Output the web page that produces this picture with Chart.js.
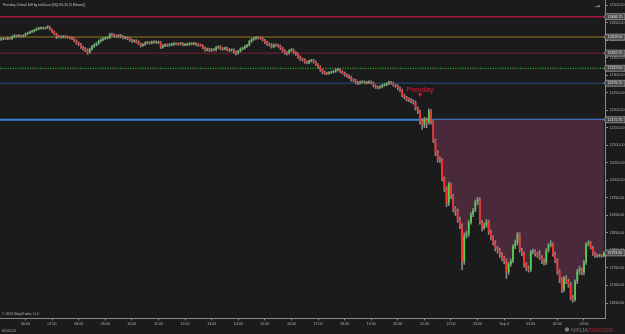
<!DOCTYPE html>
<html>
<head>
<meta charset="utf-8">
<script src="https://cdn.jsdelivr.net/npm/chart.js"></script>
<style>
  html, body { margin: 0; padding: 0; background: #1b1b1b; overflow: hidden; }
  canvas { display: block; }
</style>
</head>
<body>
<canvas id="chart" width="625" height="334"></canvas>
<script>
// NQ 09-20, 5 minute bars, first bar 05:05, last bar 03:45 (Sep 4)
const firstBarMinute = 5 * 60 + 5;

const opens = [
  12402, 12403, 12404, 12403.5, 12405, 12404, 12410, 12413, 12411, 12412.5,
  12411, 12413, 12418, 12420, 12424, 12425, 12429, 12432, 12433, 12434.5,
  12433.5, 12435, 12438, 12430, 12424, 12418, 12412, 12410, 12408, 12410.5,
  12409, 12408, 12406, 12405, 12398, 12392, 12388, 12380, 12376, 12372,
  12366, 12374, 12382, 12386, 12390, 12397, 12401, 12404, 12406, 12407,
  12416, 12414, 12412, 12411, 12413, 12410, 12406, 12407, 12404, 12400,
  12397, 12398, 12395, 12390, 12385, 12388, 12392, 12393, 12391, 12394,
  12395, 12393, 12394, 12380, 12384, 12386, 12385, 12387, 12388, 12390,
  12389, 12388.5, 12390, 12386, 12387, 12388, 12390, 12389, 12390, 12387,
  12386, 12385, 12378, 12372, 12374, 12371, 12373, 12372, 12379, 12381,
  12376, 12375, 12377, 12373, 12371, 12372, 12366, 12363, 12368, 12375,
  12377, 12382, 12385, 12396, 12402, 12405, 12407, 12406, 12405, 12400,
  12394, 12389, 12387, 12381, 12386, 12385, 12383, 12377, 12370, 12364,
  12363, 12370, 12372, 12364, 12360, 12352, 12346, 12344, 12338, 12336,
  12340, 12342, 12337, 12330, 12324, 12315, 12309, 12306, 12305, 12307,
  12309, 12311, 12315, 12316, 12310, 12306, 12301, 12298, 12294, 12287,
  12285, 12279, 12277, 12280, 12281, 12278, 12279, 12281, 12278, 12270,
  12266, 12265, 12267, 12271, 12273, 12276, 12279, 12277, 12271, 12269,
  12262, 12257, 12242, 12237, 12231, 12229, 12226, 12222, 12205, 12196,
  12168, 12158, 12172, 12164, 12198, 12168, 12115, 12078, 12060, 12058,
  12005, 11975, 11935, 11988, 11955, 11918, 11912, 11888, 11870, 11768,
  11842, 11848, 11880, 11902, 11915, 11938, 11945, 11880, 11864, 11872,
  11882, 11852, 11838, 11822, 11805, 11800, 11788, 11778, 11770, 11738,
  11762, 11770, 11812, 11822, 11846, 11800, 11792, 11760, 11750, 11745,
  11796, 11798, 11790, 11786, 11780, 11770, 11765, 11800, 11815, 11818,
  11790, 11772, 11740, 11718, 11688, 11720, 11712, 11702, 11665, 11660,
  11712, 11740, 11745, 11738, 11766, 11818, 11822, 11808, 11790, 11786,
  11784, 11785, 11784
];

const highs = [
  12406, 12406, 12407, 12408, 12407, 12412, 12416, 12415, 12415, 12414,
  12415, 12420, 12423, 12426, 12428, 12431, 12435, 12436, 12437, 12437,
  12437, 12441, 12440, 12432, 12426, 12420, 12414, 12412, 12413, 12413,
  12412, 12410, 12409, 12407, 12401, 12395, 12391, 12383, 12379, 12375,
  12377, 12385, 12389, 12393, 12400, 12404, 12407, 12409, 12410, 12419,
  12420, 12417, 12415, 12416, 12416, 12413, 12410, 12410, 12407, 12403,
  12401, 12401, 12398, 12392, 12390, 12395, 12396, 12396, 12397, 12398,
  12398, 12397, 12396, 12387, 12389, 12389, 12390, 12391, 12393, 12392,
  12392, 12393, 12393, 12390, 12391, 12393, 12393, 12393, 12393, 12390,
  12389, 12387, 12381, 12377, 12377, 12376, 12376, 12382, 12384, 12384,
  12379, 12380, 12380, 12376, 12375, 12375, 12369, 12371, 12378, 12380,
  12385, 12388, 12399, 12405, 12408, 12410, 12410, 12409, 12408, 12402,
  12397, 12392, 12390, 12389, 12389, 12388, 12386, 12380, 12373, 12367,
  12373, 12376, 12375, 12367, 12363, 12355, 12349, 12347, 12341, 12343,
  12345, 12345, 12340, 12333, 12327, 12318, 12312, 12309, 12310, 12312,
  12314, 12318, 12320, 12319, 12313, 12309, 12304, 12301, 12297, 12290,
  12288, 12282, 12283, 12284, 12284, 12282, 12284, 12284, 12281, 12273,
  12269, 12270, 12274, 12276, 12279, 12283, 12282, 12280, 12274, 12272,
  12266, 12260, 12246, 12240, 12235, 12233, 12230, 12226, 12209, 12200,
  12176, 12180, 12178, 12204, 12202, 12170, 12118, 12085, 12066, 12062,
  12010, 11982, 11995, 11992, 11960, 11925, 11918, 11895, 11876, 11850,
  11855, 11886, 11908, 11920, 11944, 11952, 11950, 11885, 11878, 11888,
  11886, 11858, 11842, 11828, 11812, 11806, 11794, 11784, 11776, 11766,
  11776, 11816, 11830, 11852, 11850, 11806, 11796, 11765, 11756, 11800,
  11804, 11802, 11795, 11800, 11785, 11775, 11805, 11820, 11828, 11822,
  11795, 11776, 11745, 11722, 11726, 11728, 11718, 11708, 11672, 11716,
  11746, 11755, 11750, 11772, 11822, 11828, 11826, 11812, 11795, 11790,
  11789, 11788, 11796
];

const lows = [
  12399, 12401, 12401, 12401, 12402, 12402, 12407, 12408, 12409, 12408,
  12409, 12411, 12416, 12418, 12421, 12423, 12427, 12430, 12431, 12431,
  12431, 12433, 12428, 12421, 12415, 12404, 12407, 12405, 12406, 12406,
  12405, 12403, 12401, 12395, 12388, 12384, 12376, 12371, 12367, 12360,
  12362, 12371, 12379, 12383, 12387, 12394, 12398, 12401, 12403, 12404,
  12411, 12409, 12408, 12408, 12407, 12403, 12403, 12401, 12397, 12393,
  12394, 12392, 12387, 12380, 12382, 12385, 12389, 12388, 12389, 12391,
  12390, 12390, 12376, 12377, 12381, 12382, 12382, 12384, 12385, 12386,
  12385, 12386, 12383, 12383, 12384, 12385, 12386, 12386, 12384, 12382,
  12382, 12375, 12368, 12369, 12367, 12368, 12369, 12369, 12376, 12372,
  12371, 12372, 12370, 12367, 12368, 12362, 12358, 12360, 12366, 12372,
  12374, 12379, 12383, 12393, 12399, 12402, 12403, 12402, 12397, 12390,
  12385, 12383, 12377, 12378, 12382, 12380, 12373, 12366, 12360, 12358,
  12360, 12367, 12361, 12356, 12348, 12342, 12340, 12334, 12332, 12333,
  12337, 12334, 12327, 12320, 12311, 12304, 12302, 12301, 12302, 12305,
  12306, 12308, 12312, 12307, 12303, 12297, 12294, 12290, 12283, 12281,
  12275, 12273, 12274, 12277, 12275, 12275, 12276, 12275, 12266, 12262,
  12261, 12262, 12264, 12268, 12270, 12273, 12274, 12268, 12265, 12258,
  12252, 12238, 12232, 12226, 12224, 12221, 12217, 12200, 12190, 12160,
  12145, 12150, 12150, 12160, 12160, 12108, 12070, 12052, 12050, 11998,
  11968, 11925, 11928, 11948, 11910, 11900, 11880, 11862, 11745, 11760,
  11835, 11840, 11875, 11896, 11910, 11930, 11875, 11855, 11860, 11866,
  11846, 11830, 11815, 11798, 11792, 11780, 11770, 11762, 11720, 11732,
  11755, 11765, 11805, 11815, 11795, 11785, 11752, 11742, 11738, 11740,
  11790, 11784, 11780, 11774, 11762, 11758, 11760, 11795, 11810, 11784,
  11765, 11732, 11708, 11680, 11682, 11705, 11695, 11658, 11652, 11655,
  11705, 11732, 11730, 11730, 11760, 11812, 11804, 11786, 11780, 11780,
  11781, 11780, 11782
];

const closes = [
  12403, 12404, 12403.5, 12405, 12404, 12410, 12413, 12411, 12412.5, 12411,
  12413, 12418, 12420, 12424, 12425, 12429, 12432, 12433, 12434.5, 12433.5,
  12435, 12438, 12430, 12424, 12418, 12412, 12410, 12408, 12410.5, 12409,
  12408, 12406, 12405, 12398, 12392, 12388, 12380, 12376, 12372, 12366,
  12374, 12382, 12386, 12390, 12397, 12401, 12404, 12406, 12407, 12416,
  12414, 12412, 12411, 12413, 12410, 12406, 12407, 12404, 12400, 12397,
  12398, 12395, 12390, 12385, 12388, 12392, 12393, 12391, 12394, 12395,
  12393, 12394, 12380, 12384, 12386, 12385, 12387, 12388, 12390, 12389,
  12388.5, 12390, 12386, 12387, 12388, 12390, 12389, 12390, 12387, 12386,
  12385, 12378, 12372, 12374, 12371, 12373, 12372, 12379, 12381, 12376,
  12375, 12377, 12373, 12371, 12372, 12366, 12363, 12368, 12375, 12377,
  12382, 12385, 12396, 12402, 12405, 12407, 12406, 12405, 12400, 12394,
  12389, 12387, 12381, 12386, 12385, 12383, 12377, 12370, 12364, 12363,
  12370, 12372, 12364, 12360, 12352, 12346, 12344, 12338, 12336, 12340,
  12342, 12337, 12330, 12324, 12315, 12309, 12306, 12305, 12307, 12309,
  12311, 12315, 12316, 12310, 12306, 12301, 12298, 12294, 12287, 12285,
  12279, 12277, 12280, 12281, 12278, 12279, 12281, 12278, 12270, 12266,
  12265, 12267, 12271, 12273, 12276, 12279, 12277, 12271, 12269, 12262,
  12257, 12242, 12237, 12231, 12229, 12226, 12222, 12205, 12196, 12168,
  12158, 12172, 12164, 12198, 12168, 12115, 12078, 12060, 12058, 12005,
  11975, 11935, 11988, 11955, 11918, 11912, 11888, 11870, 11768, 11842,
  11848, 11880, 11902, 11915, 11938, 11945, 11880, 11864, 11872, 11882,
  11852, 11838, 11822, 11805, 11800, 11788, 11778, 11770, 11738, 11762,
  11770, 11812, 11822, 11846, 11800, 11792, 11760, 11750, 11745, 11796,
  11798, 11790, 11786, 11780, 11770, 11765, 11800, 11815, 11818, 11790,
  11772, 11740, 11718, 11688, 11720, 11712, 11702, 11665, 11660, 11712,
  11740, 11745, 11738, 11766, 11818, 11822, 11808, 11790, 11786, 11784,
  11785, 11784, 11793
];

// x axis labels that are printed
const hourTicks = ['06:00', '07:00', '08:00', '09:00', '10:00', '11:00', '12:00', '13:00',
  '14:00', '15:00', '16:00', '17:00', '18:00', '19:00', '20:00', '21:00', '22:00', '23:00',
  'Sep 4', '01:00', '02:00', '03:00'];

// right axis prices
const priceTicks = [11650, 11700, 11750, 11800, 11850, 11900, 11950, 12000, 12050, 12100,
  12150, 12200, 12250, 12300, 12350, 12400, 12450, 12500];

// prevday levels, top to bottom; the last one is the critical level used for the fill
const levelValues = [12466.75, 12408.5, 12362.75, 12319.5, 12276.75, 12172.75];
const levelColors = ['#a3163a', '#6f5c1c', '#5e1c2a', '#22d022', '#1f3c62', '#3b82d4'];
const levelWidths = [1.5, 1.5, 1.5, 1, 1.5, 2];
const criticalLevel = levelValues[levelValues.length - 1];

const upColor = '#4fd04f';
const downColor = '#ff2b2b';
const wickColor = '#8c8c8c';
const fillColor = '#4a2a3a';
const textColor = '#b4b4b4';
const font = 'Liberation Sans';

// time label for every bar
const barTimes = closes.map((c, i) => {
  const m = (firstBarMinute + i * 5) % 1440;
  const hh = String(Math.floor(m / 60)).padStart(2, '0');
  const mm = String(m % 60).padStart(2, '0');
  return hh + ':' + mm;
});

// fill starts once the price has closed below the critical level for good
let lastAbove = 0;
closes.forEach((c, i) => { if (c >= criticalLevel) lastAbove = i; });
const fillData = closes.map((c, i) => (i > lastAbove ? c : null));

const wicks = closes.map((c, i) => [lows[i], highs[i]]);
const bodies = closes.map((c, i) => [opens[i], c]);
const bodyColors = closes.map((c, i) => (c >= opens[i] ? upColor : downColor));

function flag(ctx, x, y, text) {
  ctx.save();
  ctx.beginPath();
  ctx.moveTo(x - 2, y);
  ctx.lineTo(x, y - 3);
  ctx.lineTo(x + 19, y - 3);
  ctx.lineTo(x + 19, y + 3);
  ctx.lineTo(x, y + 3);
  ctx.closePath();
  ctx.fillStyle = '#4a4a4a';
  ctx.fill();
  ctx.strokeStyle = '#b8b8b8';
  ctx.lineWidth = 0.6;
  ctx.stroke();
  ctx.fillStyle = '#e8e8e8';
  ctx.font = '3.6px "' + font + '"';
  ctx.textAlign = 'left';
  ctx.textBaseline = 'middle';
  ctx.fillText(text, x + 1.5, y + 0.2);
  ctx.restore();
}

const overlay = {
  id: 'overlay',
  beforeDatasetsDraw(chart) {
    const { ctx, chartArea: a, scales: { y } } = chart;
    ctx.save();
    levelValues.forEach((v, k) => {
      const py = y.getPixelForValue(v);
      ctx.beginPath();
      ctx.strokeStyle = levelColors[k];
      ctx.lineWidth = levelWidths[k];
      ctx.setLineDash(k === 3 ? [1.2, 1.3] : []);
      ctx.moveTo(a.left, py);
      ctx.lineTo(a.right, py);
      ctx.stroke();
    });
    ctx.restore();
  },
  afterDraw(chart) {
    const { ctx, chartArea: a, scales: { x, y } } = chart;
    ctx.save();
    // title
    ctx.fillStyle = '#c8c8c8';
    ctx.font = '3.4px "' + font + '"';
    ctx.textBaseline = 'middle';
    ctx.fillText('Prevday Critical Diff by ninZa.co (NQ 09-20 (5 Minute))', 3, 5);
    // copyright + date
    ctx.fillStyle = textColor;
    ctx.fillText('\u00A9 2020 NinjaTrader, LLC', 2, a.bottom - 4);
    ctx.fillText('09-03-20', 2, 331);
    // top right arrow
    ctx.font = '6px "DejaVu Sans"';
    ctx.fillStyle = '#c0c0c0';
    ctx.fillText('\u2192', 595, 6);
    // Prevday marker
    const px = x.getPixelForValue(189);
    ctx.fillStyle = '#d8203e';
    ctx.font = '7.5px "' + font + '"';
    ctx.textAlign = 'center';
    ctx.fillText('Prevday', px, y.getPixelForValue(12258));
    const ty = y.getPixelForValue(12242);
    ctx.beginPath();
    ctx.moveTo(px - 2, ty - 2);
    ctx.lineTo(px + 2, ty - 2);
    ctx.lineTo(px, ty + 1.5);
    ctx.closePath();
    ctx.fill();
    // ninjatrader logo text
    ctx.textAlign = 'left';
    ctx.font = '6px "' + font + '"';
    ctx.fillStyle = '#7a7a7a';
    ctx.beginPath();
    ctx.arc(567, 329.5, 2.2, 0, Math.PI * 2);
    ctx.fill();
    ctx.fillText('NINJA', 571, 330);
    const w = ctx.measureText('NINJA').width;
    ctx.fillStyle = '#b81c34';
    ctx.fillText('TRADER', 571 + w, 330);
    ctx.restore();
    // value flags on the price axis
    levelValues.forEach((v) => flag(ctx, a.right + 1, y.getPixelForValue(v), v.toFixed(2)));
    const last = closes[closes.length - 1];
    flag(ctx, a.right + 1, y.getPixelForValue(last), last.toFixed(2));
  }
};

new Chart(document.getElementById('chart'), {
  type: 'bar',
  data: {
    labels: barTimes,
    datasets: [
      {
        type: 'line',
        data: fillData,
        borderWidth: 0,
        pointRadius: 0,
        backgroundColor: fillColor,
        fill: { value: criticalLevel },
        spanGaps: false,
        order: 3
      },
      {
        data: wicks,
        backgroundColor: wickColor,
        barThickness: 0.9,
        grouped: false,
        order: 2
      },
      {
        data: bodies,
        backgroundColor: bodyColors,
        barPercentage: 0.8,
        categoryPercentage: 1,
        minBarLength: 1,
        grouped: false,
        order: 1
      }
    ]
  },
  options: {
    responsive: false,
    animation: false,
    devicePixelRatio: 1,
    layout: { padding: 0 },
    plugins: { legend: { display: false }, tooltip: { enabled: false }, title: { display: false } },
    scales: {
      x: {
        offset: true,
        grid: { display: true, drawOnChartArea: false, drawTicks: true, tickLength: 2.5, color: '#8a8a8a', offset: false },
        border: { display: true, color: '#8a8a8a', width: 1 },
        ticks: {
          autoSkip: false, maxRotation: 0, minRotation: 0, padding: 1.5,
          color: textColor, font: { size: 3.6, family: font },
          callback(v) {
            const lbl = this.getLabelForValue(v);
            const shown = lbl === '00:00' ? 'Sep 4' : lbl;
            return hourTicks.includes(shown) ? shown : null;
          }
        },
        afterFit(s) { s.height = 16; s.paddingLeft = 0; s.paddingRight = 0; }
      },
      y: {
        position: 'right',
        min: 11607.3,
        max: 12514.3,
        afterBuildTicks(s) { s.ticks = priceTicks.map(v => ({ value: v })); },
        grid: { display: true, drawOnChartArea: false, drawTicks: true, tickLength: 3, color: '#8a8a8a' },
        border: { display: true, color: '#8a8a8a', width: 1 },
        ticks: {
          color: textColor, padding: 1.5, font: { size: 3.6, family: font },
          callback: v => Number(v).toFixed(2)
        },
        afterFit(s) { s.width = 20; s.paddingTop = 0; s.paddingBottom = 0; }
      }
    }
  },
  plugins: [overlay]
});
</script>
</body>
</html>
